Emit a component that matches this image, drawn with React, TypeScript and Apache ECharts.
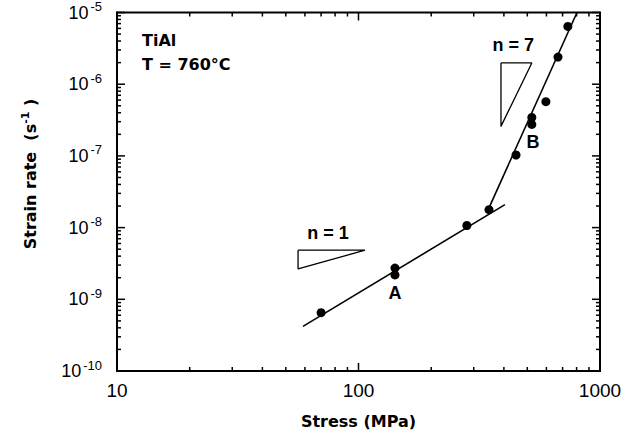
import React, { useEffect, useRef } from "react";
import * as echarts from "echarts";

// Measured data points: [stress (MPa), strain rate (1/s)]
const points: [number, number][] = [
  [70, 6.5e-10],
  [141.6, 2.73e-9],
  [141.6, 2.19e-9],
  [281, 1.07e-8],
  [347, 1.78e-8],
  [449, 1.03e-7],
  [522, 3.43e-7],
  [522, 2.75e-7],
  [597, 5.7e-7],
  [670, 2.39e-6],
  [736, 6.4e-6],
];

// Fit lines
const fitN1: [number, number][] = [
  [58.9, 4.19e-10],
  [404, 2.09e-8],
];
const fitN7: [number, number][] = [
  [340, 1.62e-8],
  [803, 1.0e-5],
];

// Slope triangles
const triN1: [number, number][] = [
  [56.2, 4.84e-9],
  [106.4, 4.84e-9],
  [56.2, 2.65e-9],
  [56.2, 4.84e-9],
];
const triN7: [number, number][] = [
  [389, 1.98e-6],
  [522, 1.98e-6],
  [389, 2.58e-7],
  [389, 1.98e-6],
];

// Annotation labels: [x, y, text]
const annotations: [number, number, string][] = [
  [141.6, 1.23e-9, "A"],
  [528, 1.55e-7, "B"],
  [74.8, 8.3e-9, "n = 1"],
  [437, 3.5e-6, "n = 7"],
];

const xMin = 10;
const xMax = 1000;
const yMin = 1e-10;
const yMax = 1e-5;
const xDecades = [10, 100, 1000];
const yDecades = [1e-10, 1e-9, 1e-8, 1e-7, 1e-6, 1e-5];

// tick values: [value, isMajor]
function buildTicks(decades: number[], maxV: number): [number, number][] {
  const out: [number, number][] = [];
  for (const d of decades) {
    out.push([d, 1]);
    for (let k = 2; k <= 9; k++) {
      const v = d * k;
      if (v < maxV * 0.999) out.push([v, 0]);
    }
  }
  return out;
}

const FONT = "Liberation Sans, Arial, Helvetica, sans-serif";
const DFONT = "DejaVu Sans, Liberation Sans, sans-serif";

const GRID = { left: 117, right: 37, top: 9, bottom: 67 };
const W = 637;
const H = 438;

export default function App() {
  const ref = useRef<HTMLDivElement>(null);
  useEffect(() => {
    if (!ref.current) return;
    const chart = echarts.init(ref.current, undefined, { renderer: "svg" });

    const textGraphics: any[] = [
      {
        type: "text",
        left: 142,
        top: 32,
        style: {
          text: "TiAl",
          font: `bold 16px ${DFONT}`,
          fill: "#000",
        },
      },
      {
        type: "text",
        left: 142,
        top: 56,
        style: {
          text: "T = 760°C",
          font: `bold 16px ${DFONT}`,
          fill: "#000",
        },
      },
      {
        type: "text",
        x: 30,
        y: 174,
        rotation: Math.PI / 2,
        style: {
          text: "{t|Strain rate  (s}{s|-1}{t| )}",
          align: "center",
          verticalAlign: "middle",
          rich: {
            t: {
              fontSize: 16,
              fontFamily: DFONT,
              fontWeight: "bold",
              fill: "#000",
            },
            s: {
              fontSize: 11,
              fontFamily: DFONT,
              fontWeight: "bold",
              fill: "#000",
              padding: [0, 0, 10, 0],
            },
          },
        },
      },
    ];

    const lineStyle = { color: "#000", width: 1.6 };
    chart.setOption({
      animation: false,
      backgroundColor: "#fff",
      grid: {
        ...GRID,
        show: true,
        borderColor: "#000",
        borderWidth: 2,
      },
      xAxis: {
        type: "log",
        logBase: 10,
        min: xMin,
        max: xMax,
        axisLine: { show: true, lineStyle: { color: "#000", width: 2 } },
        axisTick: { show: false },
        splitLine: { show: false },
        axisLabel: {
          color: "#000",
          fontFamily: FONT,
          fontSize: 19,
          margin: 10,
          formatter: (v: number) => String(Math.round(v)),
        },
        name: "Stress (MPa)",
        nameLocation: "middle",
        nameGap: 42,
        nameTextStyle: {
          color: "#000",
          fontFamily: DFONT,
          fontSize: 16,
          fontWeight: "bold",
        },
      },
      yAxis: {
        type: "log",
        logBase: 10,
        min: yMin,
        max: yMax,
        axisLine: { show: true, lineStyle: { color: "#000", width: 2 } },
        axisTick: { show: false },
        splitLine: { show: false },
        axisLabel: {
          color: "#000",
          fontFamily: FONT,
          margin: 15,
          formatter: (v: number) =>
            `{b|10}{s|${Math.round(Math.log10(v))}}`,
          rich: {
            b: { fontSize: 18, fontFamily: FONT, color: "#000" },
            s: {
              fontSize: 13,
              fontFamily: FONT,
              color: "#000",
              padding: [0, 0, 12, 2],
            },
          },
        },
      },
      series: [
        {
          type: "line",
          data: fitN1,
          symbol: "none",
          lineStyle,
          clip: true,
        },
        {
          type: "line",
          data: fitN7,
          symbol: "none",
          lineStyle,
          clip: true,
        },
        {
          type: "line",
          data: triN1,
          symbol: "none",
          lineStyle: { color: "#000", width: 1.3 },
        },
        {
          type: "line",
          data: triN7,
          symbol: "none",
          lineStyle: { color: "#000", width: 1.3 },
        },
        {
          type: "scatter",
          data: points,
          symbol: "circle",
          symbolSize: 9,
          itemStyle: { color: "#000", opacity: 1 },
        },
        {
          type: "scatter",
          data: annotations.map((a) => ({ value: [a[0], a[1]], name: a[2] })),
          symbolSize: 1,
          itemStyle: { color: "rgba(0,0,0,0)", opacity: 1 },
          label: {
            show: true,
            position: "inside",
            formatter: (p: any) => p.name,
            color: "#000",
            fontFamily: FONT,
            fontSize: 18,
            fontWeight: "bold",
          },
        },
      ],
    });

    // Axis ticks on all four sides (thin filled rects), placed through the axes' scales
    const toPx = (p: [number, number]) =>
      chart.convertToPixel({ gridIndex: 0 }, p) as number[];
    const tickGraphics: any[] = [];
    const tw = 1.5;
    const rect = (x: number, y: number, w: number, h: number) => ({
      type: "rect",
      shape: { x, y, width: w, height: h },
      style: { fill: "#000" },
    });
    for (const [v, m] of buildTicks(xDecades, xMax)) {
      const len = m ? 8 : 4;
      const b = toPx([v, yMin]);
      const t = toPx([v, yMax]);
      tickGraphics.push(rect(b[0] - tw / 2, b[1] - len, tw, len));
      tickGraphics.push(rect(t[0] - tw / 2, t[1], tw, len));
    }
    for (const [v, m] of buildTicks(yDecades, yMax)) {
      const len = m ? 8 : 4;
      const l = toPx([xMin, v]);
      const r = toPx([xMax, v]);
      tickGraphics.push(rect(l[0], l[1] - tw / 2, len, tw));
      tickGraphics.push(rect(r[0] - len, r[1] - tw / 2, len, tw));
    }
    chart.setOption({ graphic: [...textGraphics, ...tickGraphics] });

    return () => chart.dispose();
  }, []);
  return (
    <div
      ref={ref}
      style={{ position: "fixed", left: 0, top: 0, width: W, height: H }}
    />
  );
}
